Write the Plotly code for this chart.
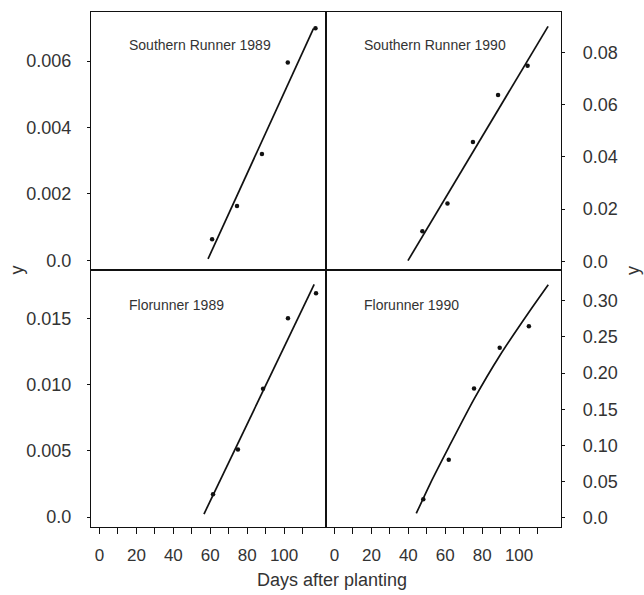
import plotly.graph_objects as go
from plotly.subplots import make_subplots

# ---- data ----
panel_titles = ["Southern Runner 1989", "Southern Runner 1990", "Florunner 1989", "Florunner 1990"]

sr89_days = [61, 74.5, 88, 102, 117]
sr89_y = [0.00063, 0.00163, 0.0032, 0.00596, 0.00699]
sr89_fit_x = [58.8, 115.9]
sr89_fit_y = [0.00004, 0.00698]

sr90_days = [47.6, 61.2, 75.0, 88.6, 104.6]
sr90_y = [0.0115, 0.0222, 0.0457, 0.0637, 0.0749]
sr90_fit_x = [39.8, 115.7]
sr90_fit_y = [0.0003, 0.0900]

fl89_days = [61.5, 75.0, 88.6, 102.1, 117.3]
fl89_y = [0.00173, 0.0051, 0.00968, 0.0150, 0.01688]
fl89_fit_x = [56.6, 116.3]
fl89_fit_y = [0.00023, 0.01755]

fl90_days = [48.1, 61.9, 75.6, 89.5, 105.3]
fl90_y = [0.0257, 0.0802, 0.1787, 0.235, 0.2648]
fl90_fit_x = [44.3, 52.0, 62.0, 75.6, 89.5, 105.3, 115.8]
fl90_fit_y = [0.006, 0.048, 0.098, 0.164, 0.224, 0.284, 0.322]

x_tick_vals = [0, 10, 20, 30, 40, 50, 60, 70, 80, 90, 100, 110]
x_tick_text = ["0", "", "20", "", "40", "", "60", "", "80", "", "100", ""]

tl_ticks = [0, 0.002, 0.004, 0.006]
tl_text = ["0.0", "0.002", "0.004", "0.006"]
tr_ticks = [0, 0.02, 0.04, 0.06, 0.08]
tr_text = ["0.0", "0.02", "0.04", "0.06", "0.08"]
bl_ticks = [0, 0.005, 0.010, 0.015]
bl_text = ["0.0", "0.005", "0.010", "0.015"]
br_ticks = [0, 0.05, 0.10, 0.15, 0.20, 0.25, 0.30]
br_text = ["0.0", "0.05", "0.10", "0.15", "0.20", "0.25", "0.30"]

x_range = [-4.6, 122.7]
tl_range = [-0.00028, 0.00748]
tr_range = [-0.0031, 0.0955]
bl_range = [-0.00075, 0.01868]
br_range = [-0.0128, 0.3432]

INK = "#111111"
TXT = "#333333"
FONT = "Liberation Sans, Arial, Helvetica, sans-serif"

fig = make_subplots(rows=2, cols=2, horizontal_spacing=0, vertical_spacing=0)

panels = [
    (1, 1, sr89_days, sr89_y, sr89_fit_x, sr89_fit_y, "linear"),
    (1, 2, sr90_days, sr90_y, sr90_fit_x, sr90_fit_y, "linear"),
    (2, 1, fl89_days, fl89_y, fl89_fit_x, fl89_fit_y, "linear"),
    (2, 2, fl90_days, fl90_y, fl90_fit_x, fl90_fit_y, "spline"),
]
for r, c, dx, dy, fx, fy, shape in panels:
    fig.add_trace(go.Scatter(x=fx, y=fy, mode="lines",
                             line=dict(color=INK, width=1.7, shape=shape, smoothing=0.6),
                             showlegend=False, hoverinfo="skip"), row=r, col=c)
    fig.add_trace(go.Scatter(x=dx, y=dy, mode="markers", marker=dict(color=INK, size=4.5),
                             showlegend=False), row=r, col=c)

axis_common = dict(showline=True, mirror=True, linecolor=INK, linewidth=1.3,
                   showgrid=False, zeroline=False)

for r in (1, 2):
    for c in (1, 2):
        if r == 1:
            fig.update_xaxes(range=x_range, showticklabels=False, ticks="", row=r, col=c, **axis_common)
        else:
            fig.update_xaxes(range=x_range, tickmode="array", tickvals=x_tick_vals, ticktext=x_tick_text,
                             ticks="outside", ticklen=6, tickwidth=1.2, tickcolor=INK,
                             tickfont=dict(family=FONT, size=17, color=TXT), ticklabelstandoff=6,
                             row=r, col=c, **axis_common)

yspecs = [
    (1, 1, tl_range, tl_ticks, tl_text, "left", 12),
    (1, 2, tr_range, tr_ticks, tr_text, "right", 14),
    (2, 1, bl_range, bl_ticks, bl_text, "left", 12),
    (2, 2, br_range, br_ticks, br_text, "right", 14),
]
for r, c, rng, tv, tt, side, so in yspecs:
    fig.update_yaxes(range=rng, tickmode="array", tickvals=tv, ticktext=tt, side=side,
                     ticks="outside", ticklen=3, tickwidth=1.2, tickcolor=INK,
                     tickfont=dict(family=FONT, size=18, color=TXT), ticklabelstandoff=so,
                     row=r, col=c, **axis_common)

# panel labels
label_pos = [("x domain", "y domain", 0), ("x2 domain", "y2 domain", 1),
             ("x3 domain", "y3 domain", 2), ("x4 domain", "y4 domain", 3)]
for xr, yr, i in label_pos:
    fig.add_annotation(x=0.152, y=0.87 if i < 2 else 0.864, xref=xr, yref=yr, text=panel_titles[i],
                       showarrow=False, xanchor="left", yanchor="middle",
                       font=dict(family=FONT, size=14, color=TXT))

fig.add_annotation(x=-0.157, y=0.4987, xref="paper", yref="paper", text="y", textangle=-90,
                   xanchor="center", yanchor="middle",
                   showarrow=False, font=dict(family=FONT, size=18, color=TXT))
fig.add_annotation(x=1.153, y=0.4987, xref="paper", yref="paper", text="y", textangle=-90,
                   xanchor="center", yanchor="middle",
                   showarrow=False, font=dict(family=FONT, size=18, color=TXT))
fig.add_annotation(x=0.513, y=-0.103, xref="paper", yref="paper", text="Days after planting",
                   showarrow=False, xanchor="center", yanchor="middle",
                   font=dict(family=FONT, size=18, color=TXT))

fig.update_layout(width=644, height=595, margin=dict(l=91, r=83, t=12, b=68),
                  paper_bgcolor="white", plot_bgcolor="white")

fig.write_html("out.html")
